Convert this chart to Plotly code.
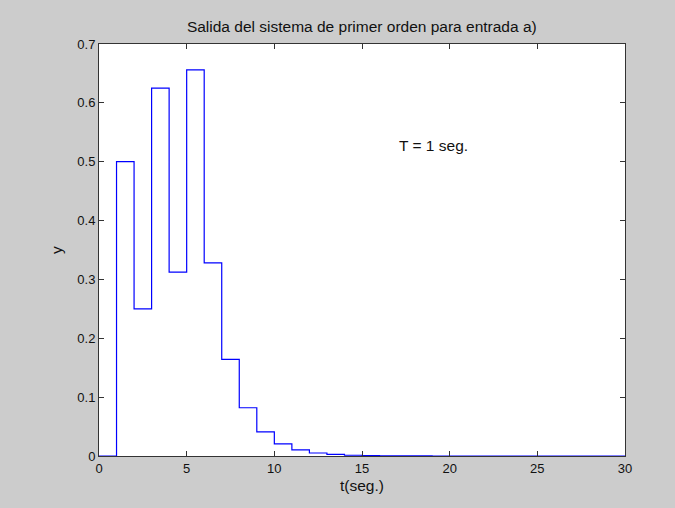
import plotly.graph_objects as go

t = list(range(0, 31))
y = [0, 0.5, 0.25, 0.625, 0.3125, 0.656, 0.328, 0.164, 0.082, 0.041, 0.0205,
     0.0103, 0.0051, 0.0026, 0.0013, 0.0006, 0.0003, 0.00016, 0.00008, 0.00004,
     0.00002, 0.00001, 0.00001, 0, 0, 0, 0, 0, 0, 0, 0]

tick_font = dict(family="Liberation Sans, Arial, sans-serif", size=13, color="#111111")
text_font = dict(family="Liberation Sans, Arial, sans-serif", size=15.5, color="#111111")

fig = go.Figure()
fig.add_trace(go.Scatter(x=t, y=y, mode="lines", line=dict(shape="hv", color="#0000ff", width=1.2),
                         showlegend=False))

axis_common = dict(showgrid=False, zeroline=False, showline=True, linecolor="#333333", linewidth=1,
                   mirror="ticks", ticks="inside", ticklen=5, tickcolor="#333333", tickfont=tick_font)

fig.update_xaxes(range=[0, 30], tickvals=[0, 5, 10, 15, 20, 25, 30],
                 title=dict(text="t(seg.)", font=text_font, standoff=5), **axis_common)
fig.update_yaxes(range=[0, 0.7], tickvals=[0, 0.1, 0.2, 0.3, 0.4, 0.5, 0.6, 0.7],
                 ticktext=["0", "0.1", "0.2", "0.3", "0.4", "0.5", "0.6", "0.7"],
                 title=dict(text="y", font=text_font, standoff=10), **axis_common)

fig.add_annotation(x=19.05, y=0.527, text="T = 1 seg.", showarrow=False, font=text_font)

fig.update_layout(
    width=675, height=508,
    margin=dict(l=99, r=50, t=44, b=52),
    paper_bgcolor="#cccccc", plot_bgcolor="white",
    title=dict(text="Salida del sistema de primer orden para entrada a)", x=0.536, xanchor="center",
               y=1 - 27/508, yanchor="middle", font=text_font),
)

fig.write_html("out.html", config={"displayModeBar": False},
               post_script="document.body.style.margin='0';document.body.style.background='#cccccc';")
